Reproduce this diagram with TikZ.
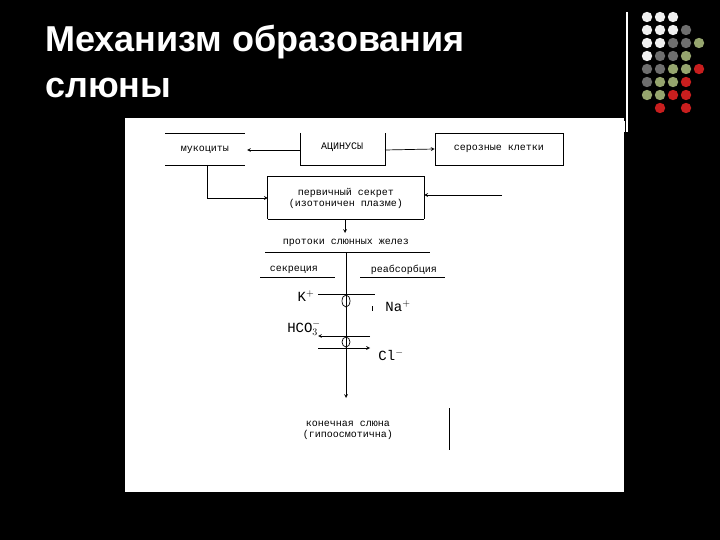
\documentclass[tikz,border=0pt]{standalone}
\usepackage{fontspec}
\setmainfont{Liberation Sans}
\newfontfamily\monof{Liberation Mono}
\definecolor{dW}{RGB}{240,240,240}
\definecolor{dG}{RGB}{110,110,110}
\definecolor{dE}{RGB}{150,165,110}
\definecolor{dR}{RGB}{200,30,30}
\begin{document}
\begin{tikzpicture}[x=1pt,y=-1pt,
  ln/.style={line width=0.7pt},
  ar/.style={ln,-stealth},
  lab/.style={font=\monof\fontsize{10}{11}\selectfont,inner sep=0pt,align=center},
  ion/.style={font=\monof\fontsize{14}{15}\selectfont,inner sep=0pt},
  ttl/.style={anchor=west,text=white,font=\bfseries\fontsize{36}{40}\selectfont,inner sep=0pt}]
\fill[black] (0,0) rectangle (720,540);
\useasboundingbox (0,0) rectangle (720,540);
\node[ttl] (t1) at (45,42) {Механизм образования};
\node[ttl] (t2) at (45,88) {слюны};
\draw[white,line width=1.5pt] (627,12) -- (627,132);
\fill[white] (619,121) rectangle (625,132);
\foreach \j/\i/\c in {1/1/dW,2/1/dW,3/1/dW,
  1/2/dW,2/2/dW,3/2/dW,4/2/dG,
  1/3/dW,2/3/dW,3/3/dG,4/3/dG,5/3/dE,
  1/4/dW,2/4/dG,3/4/dG,4/4/dE,
  1/5/dG,2/5/dG,3/5/dE,4/5/dE,5/5/dR,
  1/6/dG,2/6/dE,3/6/dE,4/6/dR,
  1/7/dE,2/7/dE,3/7/dR,4/7/dR,
  2/8/dR,4/8/dR}
  \fill[\c] ({634+13*\j},{4+13*\i}) circle (5.2);
\fill[white] (125,118) rectangle (624,492);
% nodes
\node[lab] (muk) at (205,150) {мукоциты};
\draw[ln] (165,133) -- (245,133) (165,165) -- (245,165);
\node[lab] (acin) at (342,147) {АЦИНУСЫ};
\draw[ln] (300,133) -- (300,165) -- (385,165) -- (385,133);
\node[lab,draw,line width=0.7pt,minimum width=128pt,minimum height=32pt] (ser) at (499,149) {серозные клетки};
\coordinate (aL) at (300,150); \coordinate (aR) at (385,150);
\coordinate (mR) at (247,150);
\draw[ar] (aL) -- (mR);
\draw[ar] (aR) -- (ser.west);
\node[lab,minimum width=156pt,minimum height=42pt] (perv) at (346,198) {первичный секрет\\(изотоничен плазме)};
\draw[ln] (perv.south west) -- (perv.north west) -- (perv.north east) -- (perv.south east);
\draw[ln] (perv.south west) -- (perv.south east);
\coordinate (mB) at (207,165);
\draw[ar] (mB) |- (perv.west);
\coordinate (pin) at (502,195);
\draw[ar] (pin) -- (perv.east |- pin);
\node[lab] (prot) at (346,243) {протоки слюнных желез};
\draw[ar] (perv.south -| 345,0) -- (345,233);
\draw[ln] (265,252) -- (430,252);
\node[lab] (sek) at (294,270) {секреция};
\draw[ln] (260,277) -- (335,277);
\node[lab] (reab) at (404,270) {реабсорбция};
\draw[ln] (360,277) -- (445,277);
\node[lab,minimum width=170pt,minimum height=40pt] (kon) at (348,430) {конечная слюна\\(гипоосмотична)};
\draw[ln] (449,408) -- (449,450);
\coordinate (tp) at (346,252);
\draw[ar] (tp) -- (346,398);
% ions
\node[ion] (K) at (306,296) {K$^{+}$};
\node[ion] (Na) at (398,306) {Na$^{+}$};
\node[ion] (HCO) at (304,328) {HCO$_3^{-}$};
\node[ion] (Cl) at (391,355) {Cl$^{-}$};
\draw[ln] (318,294) -- (375,294);
\draw[ln] (346,301) ellipse (4 and 6);
\draw[ln] (372,306) -- (372,311);
\draw[ar] (370,336) -- (318,336);
\draw[ln] (346,342) ellipse (4 and 5);
\draw[ar] (318,348) -- (370,348);
\end{tikzpicture}
\end{document}
